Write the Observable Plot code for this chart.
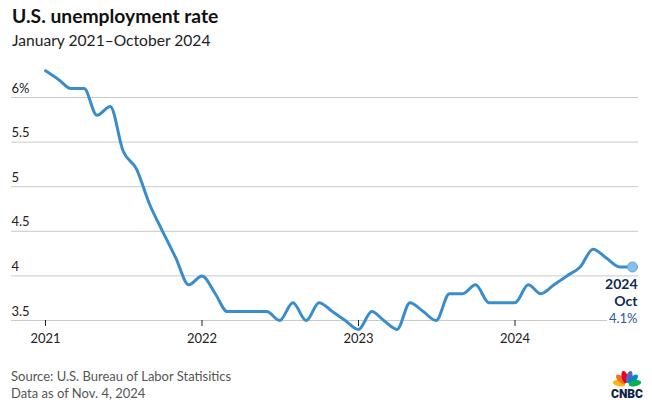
<!DOCTYPE html>
<html><head><meta charset="utf-8">
<script src="https://cdn.jsdelivr.net/npm/d3@7"></script>
<script src="https://cdn.jsdelivr.net/npm/@observablehq/plot@0.6"></script>
<style>
body{margin:0;background:#fff;font-family:Lato, "Open Sans", sans-serif;}
#wrap{position:relative;width:652px;height:407px;overflow:hidden;background:#fff}
#title{position:absolute;left:12px;top:4px;font-size:19.3px;font-weight:700;color:#111;white-space:nowrap}
#sub{position:absolute;left:12px;top:31px;font-size:15.6px;color:#222;white-space:nowrap}
#chart{position:absolute;left:0;top:50px}
#foot{position:absolute;left:11px;top:368px;font-size:13px;color:#555;line-height:16.5px;white-space:nowrap}
#logo{position:absolute;left:606px;top:366px}
</style>
</head><body>
<div id="wrap">
  <div id="title">U.S. unemployment rate</div>
  <div id="sub">January 2021–October 2024</div>
  <div id="chart"></div>
  <div id="foot">Source: U.S. Bureau of Labor Statisitics<br>Data as of Nov. 4, 2024</div>
  <svg id="logo" width="42" height="34" viewBox="0 0 42 34">
    <g transform="translate(21,19)">
      <ellipse cx="0" cy="-8" rx="3" ry="6.5" fill="#fcb711" transform="rotate(-78)"/>
      <ellipse cx="0" cy="-8" rx="3" ry="6.5" fill="#f37021" transform="rotate(-47)"/>
      <ellipse cx="0" cy="-8" rx="3" ry="6.5" fill="#e4002b" transform="rotate(-16)"/>
      <ellipse cx="0" cy="-8" rx="3" ry="6.5" fill="#6460aa" transform="rotate(16)"/>
      <ellipse cx="0" cy="-8" rx="3" ry="6.5" fill="#0089d0" transform="rotate(47)"/>
      <ellipse cx="0" cy="-8" rx="3" ry="6.5" fill="#0db14b" transform="rotate(78)"/>
      <circle cx="0" cy="0" r="2.2" fill="#fff"/>
    </g>
    <text x="21" y="31.5" text-anchor="middle" font-family="Roboto, sans-serif" font-weight="900" font-size="12" fill="#0e2244">CNBC</text>
  </svg>
</div>
<script>
// Data
const startMonth = "2021-01-01";
const rates = [
  6.3, 6.2, 6.1, 6.1, 5.8, 5.9, 5.4, 5.2, 4.8, 4.5, 4.2, 3.9,
  4.0, 3.8, 3.6, 3.6, 3.6, 3.6, 3.5, 3.7, 3.5, 3.7, 3.6, 3.5,
  3.4, 3.6, 3.5, 3.4, 3.7, 3.6, 3.5, 3.8, 3.8, 3.9, 3.7, 3.7,
  3.7, 3.9, 3.8, 3.9, 4.0, 4.1, 4.3, 4.2, 4.1, 4.1
];
const yTicks = [3.5, 4, 4.5, 5, 5.5, 6];
const yTickLabels = ["3.5", "4", "4.5", "5", "5.5", "6%"];
const xTickYears = [2021, 2022, 2023, 2024];
const endLabelLines = ["2024", "Oct", "4.1%"];

const start = new Date(startMonth);
const data = rates.map((v, i) => ({date: d3.utcMonth.offset(start, i), rate: v}));
const last = data[data.length - 1];
const xTicks = xTickYears.map(y => new Date(Date.UTC(y, 0, 1)));

const lineColor = "#3a8dcd";
const navy = "#0f2b55";

const chart = Plot.plot({
  width: 652,
  height: 300,
  marginLeft: 45,
  marginRight: 20,
  marginTop: 47,
  marginBottom: 30,
  x: {type: "utc", domain: [data[0].date, last.date]},
  y: {domain: [3.5, 6], axis: null},
  style: {fontFamily: "Lato, 'Open Sans', sans-serif", background: "transparent", overflow: "visible"},
  marks: [
    Plot.ruleY(yTicks, {stroke: "#c9c9c9", strokeWidth: 1, insetLeft: -34, insetRight: -6}),
    Plot.text(yTicks, {y: d => d, text: (d, i) => yTickLabels[i], frameAnchor: "left", dx: -34, dy: -9,
      textAnchor: "start", fontSize: 13, fill: "#222"}),
    Plot.axisX({ticks: xTicks, tickFormat: "%Y", tickSize: 6, tickPadding: 7, fontSize: 13, color: "#222", stroke: "#222"}),
    Plot.line(data, {x: "date", y: "rate", stroke: lineColor, strokeWidth: 3, curve: "monotone-x", clip: false}),
    Plot.dot([last], {x: "date", y: "rate", r: 5, fill: "#86bfe9", stroke: "#5fa3d9", strokeWidth: 1}),
    Plot.text([last], {x: "date", y: "rate", text: () => endLabelLines[0], textAnchor: "end", dx: 5, dy: 17.5,
      fontSize: 14, fontWeight: 700, fill: navy}),
    Plot.text([last], {x: "date", y: "rate", text: () => endLabelLines[1], textAnchor: "end", dx: 5, dy: 35,
      fontSize: 14, fontWeight: 700, fill: navy}),
    Plot.text([last], {x: "date", y: "rate", text: () => endLabelLines[2], textAnchor: "end", dx: 5, dy: 51.5,
      fontSize: 13, fill: "#2b5a94", stroke: "#fff", strokeWidth: 5, paintOrder: "stroke"})
  ]
});
document.getElementById("chart").appendChild(chart);
</script>
</body></html>
